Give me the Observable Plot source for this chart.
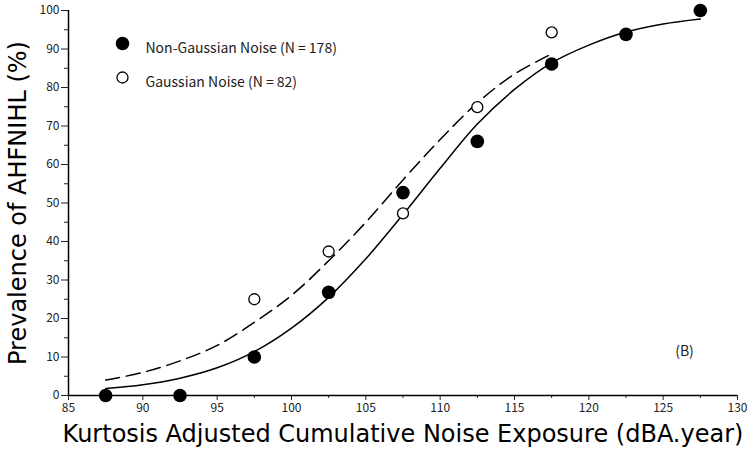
<!DOCTYPE html>
<html>
<head>
<meta charset="utf-8">
<script src="https://cdn.jsdelivr.net/npm/d3@7"></script>
<script src="https://cdn.jsdelivr.net/npm/@observablehq/plot@0.6"></script>
<style>
  body { margin: 0; background: #fff; }
  #chart { width: 750px; height: 457px; }
</style>
</head>
<body>
<div id="chart"></div>
<script>
// Observed prevalence points
const nonGaussX = [87.5, 92.5, 97.5, 102.5, 107.5, 112.5, 117.5, 122.5, 127.5];
const nonGaussY = [0, 0, 10, 26.8, 52.7, 66, 86.1, 93.8, 100];
const gaussX = [97.5, 102.5, 107.5, 112.5, 117.5];
const gaussY = [25, 37.4, 47.3, 74.9, 94.3];

// Fitted curves
const fitNonX = [87.5, 90, 92.5, 95, 97.5, 100, 102.5, 105, 107.5, 110, 112.5, 115, 117.5, 120, 122.5, 125, 127.5];
const fitNonY = [1.8, 2.8, 4.5, 7.2, 11.4, 17.5, 25.5, 35.5, 47, 59, 70.5, 79.5, 86.4, 91, 94.4, 96.5, 97.8];
const fitGaussX = [87.5, 90, 92.5, 95, 97.5, 100, 102.5, 105, 107.5, 110, 112.5, 115, 117.5];
const fitGaussY = [4, 6, 9, 13, 19, 26, 35, 45, 56, 66.5, 76, 83.5, 88.7];

// Ticks and texts
const xMajor = [85, 90, 95, 100, 105, 110, 115, 120, 125, 130];
const xMinor = [87.5, 92.5, 97.5, 102.5, 107.5, 112.5, 117.5, 122.5, 127.5];
const yMajor = [0, 10, 20, 30, 40, 50, 60, 70, 80, 90, 100];
const yMinor = [5, 15, 25, 35, 45, 55, 65, 75, 85, 95];
const xTitle = "Kurtosis Adjusted Cumulative Noise Exposure (dBA.year)";
const yTitle = "Prevalence of AHFNIHL (%)";
const legendLabels = ["Non-Gaussian Noise (N = 178)", "Gaussian Noise (N = 82)"];
const panelLabel = "(B)";

const nonGauss = nonGaussX.map((x, i) => ({x, y: nonGaussY[i]}));
const gauss = gaussX.map((x, i) => ({x, y: gaussY[i]}));
const fitNon = fitNonX.map((x, i) => ({x, y: fitNonY[i]}));
const fitGauss = fitGaussX.map((x, i) => ({x, y: fitGaussY[i]}));

const font = "'Noto Sans CJK JP', 'Noto Sans', sans-serif";
const titleFont = "'DejaVu Sans', sans-serif";

const chart = Plot.plot({
  width: 750,
  height: 457,
  marginLeft: 68,
  marginRight: 13,
  marginTop: 10,
  marginBottom: 62,
  style: { fontFamily: font, color: "#222", background: "#fff" },
  x: { domain: [85, 130] },
  y: { domain: [0, 100] },
  marks: [
    Plot.axisY({ ticks: yMajor, tickSize: 7, tickPadding: 2, fontSize: 12, label: null, tickFormat: d => String(d) }),
    Plot.axisY({ ticks: yMinor, tickSize: 4, text: null, label: null }),
    Plot.axisX({ ticks: xMajor, tickSize: 5, tickPadding: 3, fontSize: 12, label: null, tickFormat: d => String(d) }),
    Plot.axisX({ ticks: xMinor, tickSize: 3, text: null, label: null }),
    Plot.ruleX([85], { stroke: "#000", strokeWidth: 1.5 }),
    Plot.ruleY([0], { stroke: "#000", strokeWidth: 1.5 }),
    Plot.line(fitNon, { x: "x", y: "y", curve: "catmull-rom", stroke: "#000", strokeWidth: 1.5 }),
    Plot.line(fitGauss, { x: "x", y: "y", curve: "catmull-rom", stroke: "#000", strokeWidth: 1.5, strokeDasharray: "14,7" }),
    Plot.dot(gauss, { x: "x", y: "y", r: 5.5, stroke: "#000", strokeWidth: 1.3, fill: "#fff" }),
    Plot.dot(nonGauss, { x: "x", y: "y", r: 6.8, fill: "#000", stroke: "none" }),
    // legend
    Plot.dot([legendLabels[0]], { frameAnchor: "top-left", dx: 54, dy: 33, r: 6.8, fill: "#000", stroke: "none" }),
    Plot.dot([legendLabels[1]], { frameAnchor: "top-left", dx: 54, dy: 67, r: 5.5, stroke: "#000", strokeWidth: 1.3, fill: "#fff" }),
    Plot.text([legendLabels[0]], { frameAnchor: "top-left", dx: 77, dy: 33, textAnchor: "start", fontSize: 14, fill: "#222" }),
    Plot.text([legendLabels[1]], { frameAnchor: "top-left", dx: 77, dy: 67, textAnchor: "start", fontSize: 14, fill: "#222" }),
    Plot.text([panelLabel], { frameAnchor: "bottom-right", dx: -53, dy: -40, textAnchor: "middle", fontSize: 14, fill: "#222" }),
    // axis titles
    Plot.text([xTitle], { frameAnchor: "bottom", dy: 46, textAnchor: "middle", fontSize: 24, fontFamily: titleFont, fill: "#000" }),
    Plot.text([yTitle], { frameAnchor: "left", dx: -50, rotate: -90, textAnchor: "middle", fontSize: 24, fontFamily: titleFont, fill: "#000" })
  ]
});
document.getElementById("chart").appendChild(chart);
</script>
</body>
</html>
